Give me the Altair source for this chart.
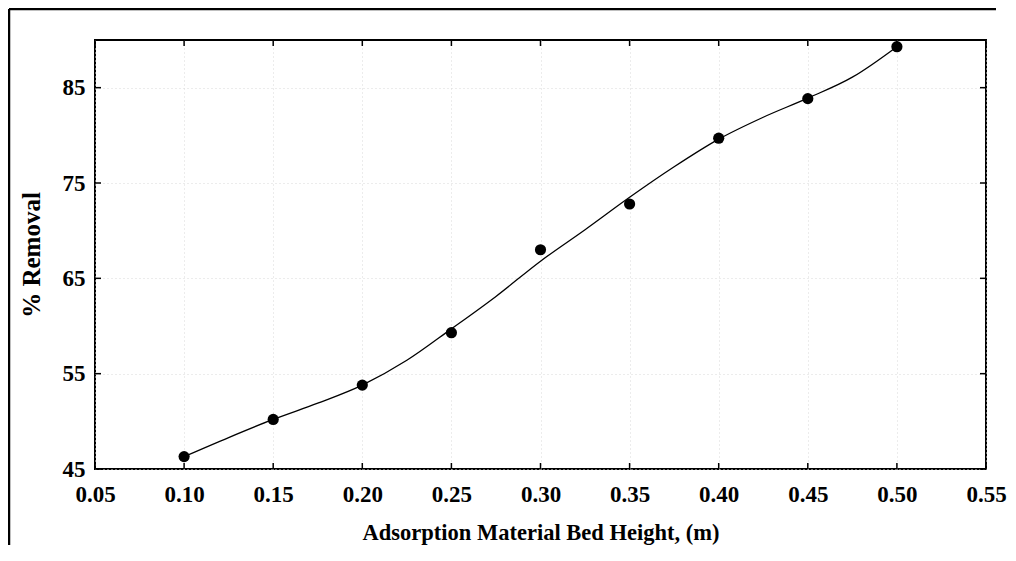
import altair as alt
import pandas as pd

# measured points
bed_height = [0.10, 0.15, 0.20, 0.25, 0.30, 0.35, 0.40, 0.45, 0.50]
removal = [46.3, 50.2, 53.8, 59.3, 68.0, 72.8, 79.7, 83.85, 89.3]

# fitted curve
curve_x = [0.100, 0.125, 0.150, 0.175, 0.200, 0.225, 0.250, 0.275, 0.300,
           0.325, 0.350, 0.375, 0.400, 0.425, 0.450, 0.475, 0.500]
curve_y = [46.3, 48.3, 50.2, 51.9, 53.8, 56.4, 59.7, 63.1, 66.8,
           70.1, 73.5, 76.7, 79.6, 81.9, 83.9, 86.1, 89.3]

x_ticks = [0.05, 0.10, 0.15, 0.20, 0.25, 0.30, 0.35, 0.40, 0.45, 0.50, 0.55]
y_ticks = [45, 55, 65, 75, 85]

W, H = 891, 429
FONT = "Liberation Serif"

pts = pd.DataFrame({"x": bed_height, "y": removal})
crv = pd.DataFrame({"x": curve_x, "y": curve_y})
xt = pd.DataFrame({"x": x_ticks})
yt = pd.DataFrame({"y": y_ticks})
one = pd.DataFrame({"a": [0]})

xs = alt.Scale(domain=[0.05, 0.55], nice=False, zero=False)
ys = alt.Scale(domain=[45, 90], nice=False, zero=False)

x_axis = alt.Axis(
    values=x_ticks, format=".2f", title="Adsorption Material Bed Height, (m)",
    labelFont=FONT, labelFontWeight="bold", labelFontSize=23, labelColor="black",
    titleFont=FONT, titleFontWeight="bold", titleFontSize=22.5, titleColor="black",
    domain=False, ticks=False, labelPadding=14, titlePadding=15,
    grid=True, gridColor="#d9d9d9", gridDash=[1, 3], gridWidth=1,
    labelFlush=False,
)
y_axis = alt.Axis(
    values=y_ticks, format="d", title="% Removal",
    labelFont=FONT, labelFontWeight="bold", labelFontSize=23, labelColor="black",
    titleFont=FONT, titleFontWeight="bold", titleFontSize=25, titleColor="black",
    domain=False, ticks=False, labelPadding=10, titlePadding=18,
    grid=True, gridColor="#d9d9d9", gridDash=[1, 3], gridWidth=1,
    labelFlush=False,
)

X = lambda: alt.X("x:Q", scale=xs, axis=x_axis)
Y = lambda: alt.Y("y:Q", scale=ys, axis=y_axis)

curve = alt.Chart(crv).mark_line(color="black", strokeWidth=1.3, interpolate="monotone").encode(
    x=X(), y=Y())
points = alt.Chart(pts).mark_circle(color="black", opacity=1, size=125).encode(
    x=X(), y=Y())

tick_len = 6
tb = alt.Chart(xt).mark_rule(color="black", strokeWidth=1.5).encode(
    x=X(), y=alt.value(H), y2=alt.value(H - tick_len))
tt = alt.Chart(xt).mark_rule(color="black", strokeWidth=1.5).encode(
    x=X(), y=alt.value(0), y2=alt.value(tick_len))
tl = alt.Chart(yt).mark_rule(color="black", strokeWidth=1.5).encode(
    y=Y(), x=alt.value(0), x2=alt.value(tick_len))
tr = alt.Chart(yt).mark_rule(color="black", strokeWidth=1.5).encode(
    y=Y(), x=alt.value(W), x2=alt.value(W - tick_len))

# outer frame (left and top edges of the figure box)
frame_left = alt.Chart(one).mark_rule(color="black", strokeWidth=2.5).encode(
    x=alt.value(-86), y=alt.value(-31), y2=alt.value(H + 76))
frame_top = alt.Chart(one).mark_rule(color="black", strokeWidth=2.5).encode(
    x=alt.value(-86), x2=alt.value(W + 10), y=alt.value(-31), y2=alt.value(-31))

chart = alt.layer(curve, points, tb, tt, tl, tr, frame_left, frame_top).properties(
    width=W, height=H,
    autosize=alt.AutoSizeParams(type="none"),
    padding={"left": 87, "top": 32, "right": 22, "bottom": 76},
    background="white",
).configure_view(stroke="black", strokeWidth=2)

chart.save("out.html", embed_options={"renderer": "svg", "actions": False})
